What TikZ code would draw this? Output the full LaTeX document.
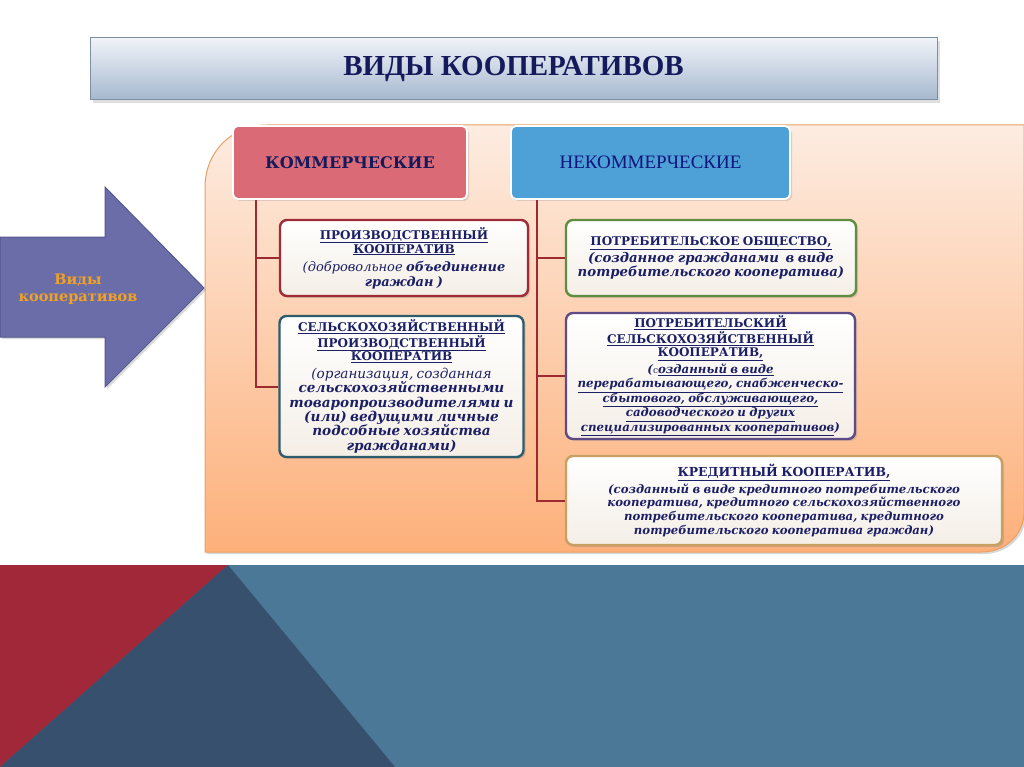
\documentclass[tikz,border=0pt]{standalone}
\usepackage{fontspec}
\setmainfont{DejaVu Serif}
\newfontfamily\timesfont{Liberation Serif}
\usetikzlibrary{positioning,shadows}
\definecolor{navy}{HTML}{1B1F66}
\definecolor{navyhead}{HTML}{141A5C}
\definecolor{peachtop}{HTML}{FDECE1}
\definecolor{peachbot}{HTML}{FDB07A}
\definecolor{peachline}{HTML}{E8A266}
\definecolor{titletop}{HTML}{F0F3F8}
\definecolor{titlebot}{HTML}{A6B8CF}
\definecolor{titleline}{HTML}{7E8EA3}
\definecolor{arrowfill}{HTML}{6A6DA8}
\definecolor{arrowline}{HTML}{55588F}
\definecolor{arrowtext}{HTML}{F2A122}
\definecolor{komm}{HTML}{D96A76}
\definecolor{nekomm}{HTML}{4DA1D7}
\definecolor{treeline}{HTML}{9C2A30}
\definecolor{redline}{HTML}{9E2B36}
\definecolor{tealline}{HTML}{2E5C6C}
\definecolor{greenline}{HTML}{5E8E3F}
\definecolor{purpline}{HTML}{5D4B86}
\definecolor{tanline}{HTML}{C9A064}
\definecolor{cardbot}{HTML}{F4EEE6}
\definecolor{bandblue}{HTML}{4A7896}
\definecolor{banddark}{HTML}{36506E}
\definecolor{bandred}{HTML}{A02839}
\newcommand{\chead}[1][12]{\bfseries\upshape\fontsize{#1}{13.8}\selectfont}
\newcommand{\cbody}[2][12.5]{\bfseries\itshape\fontsize{#1}{#2}\selectfont}
\newcommand{\ul}[1]{\underline{#1}}

\begin{document}
\begin{tikzpicture}[x=1pt,y=-1pt,
  titlebox/.style={draw=titleline,line width=1pt,top color=titletop,bottom color=titlebot,
    minimum width=847pt,minimum height=62pt,text=navyhead,
    font=\timesfont\bfseries\fontsize{29}{32}\selectfont,drop shadow={opacity=.25}},
  headbox/.style={draw=white,line width=1.8pt,rounded corners=5pt,minimum height=73pt,
    drop shadow={opacity=.25,shadow xshift=2pt,shadow yshift=-2pt}},
  card/.style={rounded corners=7pt,line width=2.4pt,top color=white,bottom color=cardbot,
    align=center,text=navy,inner sep=3pt,
    drop shadow={opacity=.3,shadow xshift=2pt,shadow yshift=-2pt}},
  trunk/.style={draw=treeline,line width=2pt},
]
\useasboundingbox (0,0) rectangle (1024,767);
\fill[white] (0,0) rectangle (1024,767);

% bottom band
\fill[bandblue] (0,565) rectangle (1024,767);
\fill[bandred] (0,565) -- (228,565) -- (0,767) -- cycle;
\fill[banddark] (228,565) -- (395,767) -- (0,767) -- cycle;

% peach panel
\path[draw=peachline,line width=1pt,top color=peachtop,bottom color=peachbot,
  drop shadow={opacity=.3,shadow xshift=2pt,shadow yshift=-2pt}]
  (205,552) -- (205,187) .. controls (205,152) and (232,125) .. (267,125)
  -- (1024,125) -- (1024,512) .. controls (1024,535) and (1005,552) .. (982,552) -- cycle;

% arrow
\path[draw=arrowline,line width=1pt,fill=arrowfill,
  drop shadow={opacity=.3,shadow xshift=2pt,shadow yshift=-2pt}]
  (0,237) -- (105,237) -- (105,187) -- (204,288) -- (105,387) -- (105,337) -- (0,337) -- cycle;
\node[text=arrowtext,align=center,font=\bfseries\fontsize{14.5}{17}\selectfont] (arrowlbl) at (78,289) {Виды\\кооперативов};

\node[titlebox] (title) at (513.5,69) {ВИДЫ КООПЕРАТИВОВ};

\node[headbox,fill=komm,minimum width=234pt,text=navyhead,
  font=\bfseries\fontsize{16}{19}\selectfont] (komm) at (350,162.5) {КОММЕРЧЕСКИЕ};
\node[headbox,fill=nekomm,minimum width=279pt,text=navyhead!80!blue,
  font=\timesfont\fontsize{19}{22}\selectfont] (nekomm) at (650.5,162.5) {НЕКОММЕРЧЕСКИЕ};

\node[card,draw=redline,minimum width=248pt,minimum height=76pt,text width=240pt] (prod) at (404,258) {%
  {\chead\ul{ПРОИЗВОДСТВЕННЫЙ}\\\ul{КООПЕРАТИВ}\par}\vspace{3pt}
  {\cbody[13]{15}\mdseries(добровольное \bfseries объединение\\граждан )\par}};

\node[card,draw=tealline,minimum width=243pt,minimum height=141pt,text width=238pt] (agri) at (401.5,386.5) {%
  {\chead\ul{СЕЛЬСКОХОЗЯЙСТВЕННЫЙ}\\\ul{ПРОИЗВОДСТВЕННЫЙ}\\\ul{КООПЕРАТИВ}\par}\vspace{3pt}
  {\cbody[13.6]{14.4}\mdseries(организация, созданная\\\bfseries сельскохозяйственными\\товаропроизводителями и\\(или) ведущими личные\\подсобные хозяйства\\гражданами)\par}};

\node[card,draw=greenline,minimum width=290pt,minimum height=76pt,text width=284pt] (potr) at (711,258) {%
  {\chead\ul{ПОТРЕБИТЕЛЬСКОЕ ОБЩЕСТВО,}\par}\vspace{2pt}
  {\cbody[13.3]{14.4}(созданное гражданами \ в виде\\потребительского кооператива)\par}};

\node[card,draw=purpline,minimum width=289pt,minimum height=122pt,text width=282pt] (psk) at (710.5,376) {%
  {\chead\ul{ПОТРЕБИТЕЛЬСКИЙ}\\\ul{СЕЛЬСКОХОЗЯЙСТВЕННЫЙ}\\\ul{КООПЕРАТИВ,}\par}\vspace{2pt}
  {\cbody[11.8]{14.5}({\mdseries\upshape\fontsize{9}{10}\selectfont с}\ul{озданный в виде}\\\ul{перерабатывающего, снабженческо-}\\\ul{сбытового, обслуживающего,}\\\ul{садоводческого и других}\\\ul{специализированных кооперативов})\par}};

\node[card,draw=tanline,minimum width=436pt,minimum height=89pt,text width=428pt] (kred) at (784,500.5) {%
  {\chead[12.4]\ul{КРЕДИТНЫЙ КООПЕРАТИВ,}\par}\vspace{3pt}
  {\cbody[11.7]{13.8}(созданный в виде кредитного потребительского\\кооператива, кредитного сельскохозяйственного\\потребительского кооператива, кредитного\\потребительского кооператива граждан)\par}};

% tree lines
\coordinate (ltop) at ([xshift=24pt]komm.south west);
\coordinate (rtop) at ([xshift=27pt]nekomm.south west);
\draw[trunk] (ltop) |- (prod.west);
\draw[trunk] (ltop) |- (agri.west);
\draw[trunk] (rtop) |- (potr.west);
\draw[trunk] (rtop) |- (psk.west);
\draw[trunk] (rtop) |- (kred.west);
\end{tikzpicture}
\end{document}
